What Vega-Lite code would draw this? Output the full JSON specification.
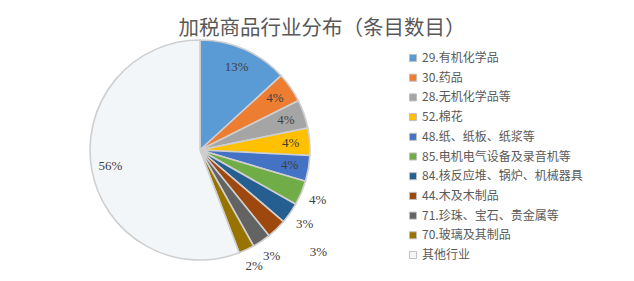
{
  "$schema": "https://vega.github.io/schema/vega-lite/v6.json",
  "width": 400,
  "height": 220,
  "autosize": {"type": "none"},
  "padding": {"left": 0, "top": 40, "right": 234, "bottom": 21},
  "background": "white",
  "config": {"view": {"stroke": null}},
  "title": {
    "text": "加税商品行业分布（条目数目）",
    "font": "Noto Sans CJK SC",
    "fontSize": 20.5,
    "fontWeight": "normal",
    "color": "#595959",
    "anchor": "middle",
    "frame": "group",
    "orient": "top",
    "dx": 122,
    "dy": 41,
    "offset": 2
  },
  "data": {
    "values": [
      {"idx": 1, "category": "29.有机化学品", "value": 13.2, "label": "13%", "pos": "in"},
      {"idx": 2, "category": "30.药品", "value": 4.4, "label": "4%", "pos": "in"},
      {"idx": 3, "category": "28.无机化学品等", "value": 4.2, "label": "4%", "pos": "in"},
      {"idx": 4, "category": "52.棉花", "value": 4.0, "label": "4%", "pos": "in"},
      {"idx": 5, "category": "48.纸、纸板、纸浆等", "value": 3.8, "label": "4%", "pos": "in"},
      {"idx": 6, "category": "85.电机电气设备及录音机等", "value": 3.6, "label": "4%", "pos": "out"},
      {"idx": 7, "category": "84.核反应堆、锅炉、机械器具", "value": 3.1, "label": "3%", "pos": "out"},
      {"idx": 8, "category": "44.木及木制品", "value": 2.9, "label": "3%", "pos": "lead"},
      {"idx": 9, "category": "71.珍珠、宝石、贵金属等", "value": 2.7, "label": "3%", "pos": "out"},
      {"idx": 10, "category": "70.玻璃及其制品", "value": 2.3, "label": "2%", "pos": "out"},
      {"idx": 11, "category": "其他行业", "value": 55.8, "label": "56%", "pos": "in"}
    ]
  },
  "encoding": {
    "theta": {"field": "value", "type": "quantitative", "stack": true},
    "order": {"field": "idx", "type": "quantitative"}
  },
  "layer": [
    {
      "mark": {"type": "arc", "outerRadius": 110, "stroke": "#cfcfcf", "strokeWidth": 1.6},
      "encoding": {
        "color": {
          "field": "category",
          "type": "nominal",
          "sort": null,
          "scale": {
            "domain": ["29.有机化学品", "30.药品", "28.无机化学品等", "52.棉花", "48.纸、纸板、纸浆等", "85.电机电气设备及录音机等", "84.核反应堆、锅炉、机械器具", "44.木及木制品", "71.珍珠、宝石、贵金属等", "70.玻璃及其制品", "其他行业"],
            "range": ["#5B9BD5", "#ED7D31", "#A5A5A5", "#FFC000", "#4472C4", "#70AD47", "#255E91", "#9E480E", "#636363", "#997300", "#f3f6f9"]
          },
          "legend": {
            "title": null,
            "orient": "none",
            "legendX": 407,
            "legendY": 12,
            "symbolType": "square",
            "symbolSize": 50,
            "symbolStrokeColor": "#bfbfbf",
            "symbolStrokeWidth": 1,
            "labelFont": "Noto Sans CJK SC",
            "labelFontSize": 12,
            "labelColor": "#595959",
            "labelLimit": 300,
            "rowPadding": 7.7,
            "labelOffset": 3
          }
        }
      }
    },
    {
      "mark": {"type": "text", "radius": 91, "font": "Liberation Serif", "fontSize": 13, "fill": "#404040"},
      "encoding": {"text": {"condition": {"test": "datum.pos == 'in'", "field": "label"}, "value": ""}}
    },
    {
      "mark": {"type": "text", "radius": 128, "font": "Liberation Serif", "fontSize": 13, "fill": "#404040"},
      "encoding": {"text": {"condition": {"test": "datum.pos == 'out'", "field": "label"}, "value": ""}}
    },
    {
      "mark": {"type": "text", "radius": 150, "dx": 14, "dy": -6, "font": "Liberation Serif", "fontSize": 13, "fill": "#404040"},
      "encoding": {"text": {"condition": {"test": "datum.pos == 'lead'", "field": "label"}, "value": ""}}
    }
  ]
}
